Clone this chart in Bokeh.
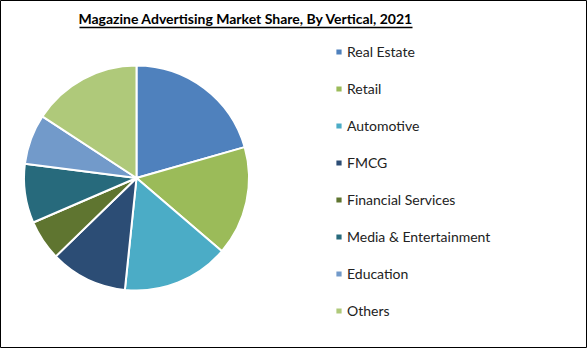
import numpy as np
from bokeh.plotting import figure
from bokeh.models import Range1d, Legend, LegendItem, ColumnDataSource
from bokeh.core.properties import value
from bokeh.embed import file_html
from bokeh.resources import INLINE

# ---- data ----
categories = ["Real Estate", "Retail", "Automotive", "FMCG", "Financial Services",
              "Media & Entertainment", "Education", "Others"]
shares = [20.6, 15.7, 15.4, 11.1, 5.8, 8.5, 7.2, 15.8]
colors = ["#4F81BD", "#9BBB59", "#4BACC6", "#2C4D75", "#5F7530", "#276A7C", "#729ACA", "#AFC97A"]
title_text = "Magazine Advertising Market Share, By Vertical, 2021"

W, H = 587, 348
frac = np.array(shares) / sum(shares)
cum = np.concatenate([[0], np.cumsum(frac)])
start = np.pi / 2 - cum[:-1] * 2 * np.pi
end = np.pi / 2 - cum[1:] * 2 * np.pi

src = ColumnDataSource(dict(cat=categories, share=shares, color=colors, start=start, end=end))

p = figure(width=W, height=H, output_backend="svg", toolbar_location=None,
           x_range=Range1d(0, W), y_range=Range1d(0, H),
           x_axis_location=None, y_axis_location=None, min_border=0)
p.grid.visible = False
p.outline_line_color = "black"
p.outline_line_width = 1
p.background_fill_color = "white"
p.border_fill_color = "white"

r = p.wedge(x=136, y=H - 177.5, radius=112.5, start_angle="start", end_angle="end",
            direction="clock", fill_color="color", line_color="white", line_width=2, source=src)

# title + underline
p.text(x=[245.5], y=[H - 18], text=[title_text], text_align="center", text_baseline="alphabetic",
       text_font=value("Lato"), text_font_style="bold", text_font_size="14px", text_color="black")
p.segment(x0=[79], y0=[H - 27], x1=[412], y1=[H - 27], line_color="black", line_width=1.3)

items = [LegendItem(label=c, renderers=[r], index=i) for i, c in enumerate(categories)]
legend = Legend(items=items, location=(334, 29), orientation="vertical",
                glyph_width=9, glyph_height=9, label_height=17, spacing=20,
                label_text_font="Lato", label_text_font_size="14px", label_text_color="#222222",
                label_standoff=4, border_line_color=None, background_fill_alpha=0,
                padding=0, margin=0)
p.add_layout(legend, "center")

open("out.html", "w").write(file_html(p, INLINE))
